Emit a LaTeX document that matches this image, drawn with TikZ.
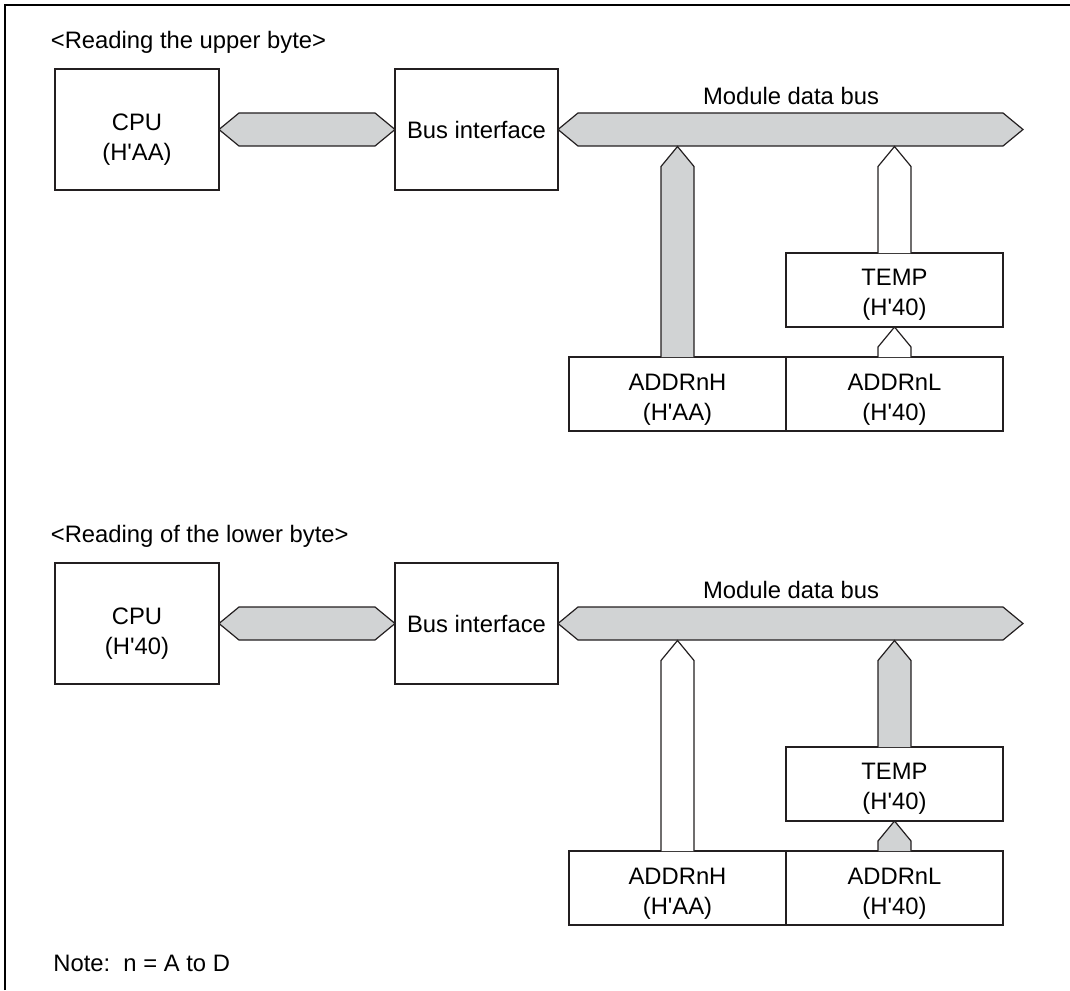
\documentclass[tikz,border=0pt]{standalone}
\usepackage{fontspec}
\setmainfont{Liberation Sans}
\usetikzlibrary{positioning,calc}
\definecolor{Ink}{RGB}{35,31,32}
\definecolor{BusGray}{RGB}{209,211,212}
\newcommand{\hexv}[1]{(H\textquotesingle #1)}
% wide bus with a point at both ends: fill, left end, right end
\newcommand{\hbus}[3]{\filldraw[busline,fill=#1] (#2) -- ($(#2)+(20,-16.5)$)
  -- ($(#3)+(-20,-16.5)$) -- (#3) -- ($(#3)+(-20,16.5)$) -- ($(#2)+(20,16.5)$) -- cycle;}
% upward bus: fill, foot, tip
\newcommand{\vbus}[3]{\filldraw[busline,fill=#1] ($(#2)+(-16.5,0)$) -- ($(#3)+(-16.5,20)$)
  -- (#3) -- ($(#3)+(16.5,20)$) -- ($(#2)+(16.5,0)$);}
\tikzset{
  regbox/.style={rectangle,draw=Ink,line width=0.6pt,fill=white,align=center,
                 inner sep=0pt,outer sep=0pt,font=\fontsize{11.9}{15}\selectfont},
  cpubox/.style={regbox,minimum width=82pt,minimum height=60.5pt},
  ifbox/.style={regbox,minimum width=81.5pt,minimum height=60.5pt},
  datbox/.style={regbox,minimum width=108.5pt,minimum height=37pt},
  buslbl/.style={font=\fontsize{11.9}{15}\selectfont,inner sep=0pt,anchor=base},
  heading/.style={buslbl,anchor=base west},
  busline/.style={draw=Ink,line width=0.6pt,line join=miter},
}

\begin{document}
\begin{tikzpicture}[x=0.5pt,y=-0.5pt]
  \useasboundingbox (0,0) rectangle (1070,990);
  \draw[line width=1pt] (4.5,990) -- (4.5,5.5) -- (1070,5.5);

  % upper byte
  \node[heading] (headU) at (50.5,48.5) {<Reading the upper byte>};
  \node[cpubox] (cpuU) at (137,129.5) {\rule{0pt}{18pt}CPU\\\hexv{AA}};
  \node[ifbox] (busifU) at (476.5,129.5) {Bus interface};
  \node[datbox] (addrhU) at (677.5,394) {\rule{0pt}{14pt}ADDRnH\\\hexv{AA}};
  \node[datbox,right=0pt of addrhU] (addrlU) {\rule{0pt}{14pt}ADDRnL\\\hexv{40}};
  \node[datbox,above=15pt of addrlU] (tempU) {\rule{0pt}{13pt}TEMP\\\hexv{40}};
  \coordinate (busendU) at (1023,129.5);
  \coordinate (mbotU) at ($(busendU)+(0,17)$);
  \coordinate (tiphU) at (addrhU.north |- mbotU);
  \coordinate (tiptU) at (tempU.north |- mbotU);
  \node[buslbl] (mbusU) at (791,104.5) {Module data bus};
  \hbus{BusGray}{cpuU.east}{busifU.west}
  \hbus{BusGray}{busifU.east}{busendU}
  \vbus{BusGray}{addrhU.north}{tiphU}
  \vbus{white}{tempU.north}{tiptU}
  \vbus{white}{addrlU.north}{tempU.south}

  % lower byte
  \node[heading] (headL) at (50.5,542.5) {<Reading of the lower byte>};
  \node[cpubox] (cpuL) at (137,623.5) {\rule{0pt}{18pt}CPU\\\hexv{40}};
  \node[ifbox] (busifL) at (476.5,623.5) {Bus interface};
  \node[datbox] (addrhL) at (677.5,888) {\rule{0pt}{14pt}ADDRnH\\\hexv{AA}};
  \node[datbox,right=0pt of addrhL] (addrlL) {\rule{0pt}{14pt}ADDRnL\\\hexv{40}};
  \node[datbox,above=15pt of addrlL] (tempL) {\rule{0pt}{13pt}TEMP\\\hexv{40}};
  \coordinate (busendL) at (1023,623.5);
  \coordinate (mbotL) at ($(busendL)+(0,17)$);
  \coordinate (tiphL) at (addrhL.north |- mbotL);
  \coordinate (tiptL) at (tempL.north |- mbotL);
  \node[buslbl] (mbusL) at (791,598.5) {Module data bus};
  \hbus{BusGray}{cpuL.east}{busifL.west}
  \hbus{BusGray}{busifL.east}{busendL}
  \vbus{white}{addrhL.north}{tiphL}
  \vbus{BusGray}{tempL.north}{tiptL}
  \vbus{BusGray}{addrlL.north}{tempL.south}

  \node[heading] (note) at (53,971.5) {Note:\ \ n = A to D};
\end{tikzpicture}
\end{document}
